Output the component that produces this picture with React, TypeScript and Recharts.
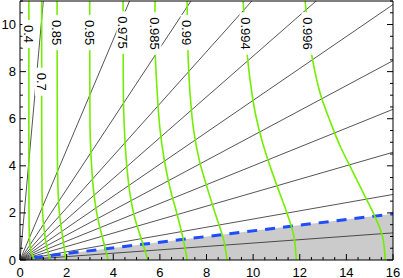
import React from 'react';
import { ComposedChart, Line, Area, XAxis, YAxis, Scatter } from 'recharts';

const FONT = '"Liberation Sans", Arial, Helvetica, sans-serif';

// axes
const xMajorTicks = [0, 2, 4, 6, 8, 10, 12, 14, 16];
const yMajorTicks = [0, 2, 4, 6, 8, 10];
const xAllTicks = Array.from({ length: 33 }, (_, i) => i * 0.5);
const yAllTicks = Array.from({ length: 23 }, (_, i) => i * 0.5);

// black rays from the origin (slope y/x)
const raySlopes = [0.072, 0.174, 0.286, 0.4, 0.529, 0.678, 0.866, 1.106, 1.5, 2.34, 11.0];

// green contour levels and their (x, y) points, bottom to top
const contourLevels = ['0.4', '0.7', '0.85', '0.95', '0.975', '0.985', '0.99', '0.994', '0.996'];
const contour040 = [[0.62, 0], [0.5, 0.3], [0.42, 0.7], [0.39, 1.5], [0.38, 4], [0.38, 11]];
const contour070 = [[1.29, 0], [1.15, 0.55], [1.05, 1.2], [0.97, 2.0], [0.94, 3.4], [0.93, 6], [0.93, 11]];
const contour085 = [[1.97, 0], [1.84, 0.9], [1.7, 1.9], [1.63, 3.0], [1.6, 5], [1.59, 11]];
const contour095 = [[3.78, 0], [3.55, 0.9], [3.33, 1.8], [3.16, 2.9], [3.06, 4.2], [3.0, 6], [2.99, 11]];
const contour0975 = [[5.49, 0], [5.2, 0.9], [4.92, 1.8], [4.72, 2.8], [4.58, 4], [4.48, 5.5], [4.43, 7.5], [4.42, 11]];
const contour0985 = [[7.17, 0], [7.02, 0.8], [6.75, 1.9], [6.45, 3.0], [6.18, 4.3], [6.0, 5.6], [5.88, 7.2], [5.8, 9], [5.79, 11]];
const contour099 = [[8.88, 0], [8.75, 0.8], [8.4, 1.9], [8.05, 3.0], [7.7, 4.2], [7.45, 5.5], [7.3, 7], [7.2, 9], [7.17, 11]];
const contour0994 = [[11.85, 0], [11.75, 1.0], [11.45, 2.0], [11.08, 3.0], [10.72, 4.0], [10.4, 5.0], [10.1, 6.2], [9.85, 7.8], [9.57, 11]];
const contour0996 = [[15.67, 0], [15.55, 1.0], [15.2, 1.9], [14.75, 2.8], [14.25, 3.8], [13.75, 4.8], [13.3, 5.9], [12.9, 7.0], [12.55, 8.5], [12.23, 11]];
const contourPoints = [contour040, contour070, contour085, contour095, contour0975, contour0985, contour099, contour0994, contour0996];

// label positions for each contour level
const labelX = [0.38, 0.92, 1.59, 3.0, 4.42, 5.79, 7.17, 9.7, 12.36];
const labelY = [9.6, 7.57, 9.66, 9.66, 9.66, 9.62, 9.66, 9.62, 9.62];

// blue dashed boundary and shaded region below it
const boundary = [[0.55, 0.1], [16, 1.96]];

const toPts = (arr: number[][]) => arr.map(([x, y]) => ({ x, y }));

const labelData = contourLevels.map((label, i) => ({ x: labelX[i], y: labelY[i], label }));

const isMajor = (v: number, list: number[]) => list.some((m) => Math.abs(m - v) < 1e-9);

const BottomTick = (props: any) => {
  const { x, y, payload } = props;
  const major = isMajor(payload.value, xMajorTicks);
  return (
    <g>
      <line x1={x} x2={x} y1={y} y2={y - (major ? 6 : 3)} stroke="#000" strokeWidth={1} />
      {major && (
        <text x={x} y={y + 16.5} textAnchor="middle" fontSize={13} fontFamily={FONT} fill="#000">
          {payload.value}
        </text>
      )}
    </g>
  );
};

const TopTick = (props: any) => {
  const { x, y, payload } = props;
  const major = isMajor(payload.value, xMajorTicks);
  return <line x1={x} x2={x} y1={y} y2={y + (major ? 6 : 3)} stroke="#000" strokeWidth={1} />;
};

const LeftTick = (props: any) => {
  const { x, y, payload } = props;
  const major = isMajor(payload.value, yMajorTicks);
  return (
    <g>
      <line x1={x} x2={x + (major ? 6 : 3)} y1={y} y2={y} stroke="#000" strokeWidth={1} />
      {major && (
        <text x={x - 4} y={y + 4.5} textAnchor="end" fontSize={13} fontFamily={FONT} fill="#000">
          {payload.value}
        </text>
      )}
    </g>
  );
};

const RightTick = (props: any) => {
  const { x, y, payload } = props;
  const major = isMajor(payload.value, yMajorTicks);
  return <line x1={x} x2={x - (major ? 6 : 3)} y1={y} y2={y} stroke="#000" strokeWidth={1} />;
};

const LabelShape = (props: any) => {
  const { cx, cy, payload } = props;
  const text: string = payload.label;
  let w = 0;
  for (const ch of text) w += ch === '.' ? 3.6 : 7.23;
  const h = w + 10;
  return (
    <g>
      <rect x={cx - 6.5} y={cy - h / 2} width={13} height={h} fill="#fff" />
      <text
        x={cx}
        y={cy}
        dy="0.36em"
        transform={`rotate(90 ${cx} ${cy})`}
        textAnchor="middle"
        fontSize={13}
        fontFamily={FONT}
        fill="#000"
      >
        {text}
      </text>
    </g>
  );
};

export default function App() {
  return (
    <div style={{ position: 'absolute', left: 0, top: 0, width: 403, height: 278, background: '#fff' }}>
      <ComposedChart width={403} height={278} margin={{ top: 1, right: 10, bottom: 0, left: 0 }}>
        <XAxis
          xAxisId="main"
          dataKey="x"
          type="number"
          domain={[0, 16]}
          allowDataOverflow
          ticks={xAllTicks}
          interval={0}
          tick={BottomTick}
          tickLine={false}
          tickSize={0}
          tickMargin={0}
          height={18}
          axisLine={{ stroke: '#000' }}
        />
        <XAxis
          xAxisId="top"
          orientation="top"
          mirror
          type="number"
          domain={[0, 16]}
          allowDataOverflow
          ticks={xAllTicks}
          interval={0}
          tick={TopTick}
          tickLine={false}
          tickSize={0}
          tickMargin={0}
          axisLine={{ stroke: '#000' }}
        />
        <YAxis
          yAxisId="main"
          dataKey="y"
          type="number"
          domain={[0, 11]}
          allowDataOverflow
          ticks={yAllTicks}
          interval={0}
          tick={LeftTick}
          tickLine={false}
          tickSize={0}
          tickMargin={0}
          width={20}
          axisLine={{ stroke: '#000' }}
        />
        <YAxis
          yAxisId="right"
          orientation="right"
          mirror
          type="number"
          domain={[0, 11]}
          allowDataOverflow
          ticks={yAllTicks}
          interval={0}
          tick={RightTick}
          tickLine={false}
          tickSize={0}
          tickMargin={0}
          axisLine={{ stroke: '#000' }}
        />
        <Area
          xAxisId="main"
          yAxisId="main"
          data={toPts(boundary)}
          dataKey="y"
          type="linear"
          stroke="none"
          fill="#cbcbcb"
          fillOpacity={1}
          isAnimationActive={false}
          dot={false}
          activeDot={false}
        />
        {raySlopes.map((s, i) => (
          <Line
            key={`ray${i}`}
            xAxisId="main"
            yAxisId="main"
            data={[{ x: 0, y: 0 }, { x: 16, y: 16 * s }]}
            dataKey="y"
            type="linear"
            stroke="#2a2a2a"
            strokeWidth={0.8}
            dot={false}
            activeDot={false}
            isAnimationActive={false}
          />
        ))}
        <Line
          xAxisId="main"
          yAxisId="main"
          data={toPts(boundary)}
          dataKey="y"
          type="linear"
          stroke="#1f4cff"
          strokeWidth={3}
          strokeDasharray="10 8"
          dot={false}
          activeDot={false}
          isAnimationActive={false}
        />
        {contourPoints.map((pts, i) => (
          <Line
            key={`c${i}`}
            xAxisId="main"
            yAxisId="main"
            data={toPts(pts)}
            dataKey="y"
            type="monotoneY"
            stroke="#74ee00"
            strokeWidth={1.6}
            dot={false}
            activeDot={false}
            isAnimationActive={false}
          />
        ))}
        <Scatter
          xAxisId="main"
          yAxisId="main"
          data={labelData}
          dataKey="y"
          shape={LabelShape}
          isAnimationActive={false}
          zIndex={2000}
        />
      </ComposedChart>
    </div>
  );
}
